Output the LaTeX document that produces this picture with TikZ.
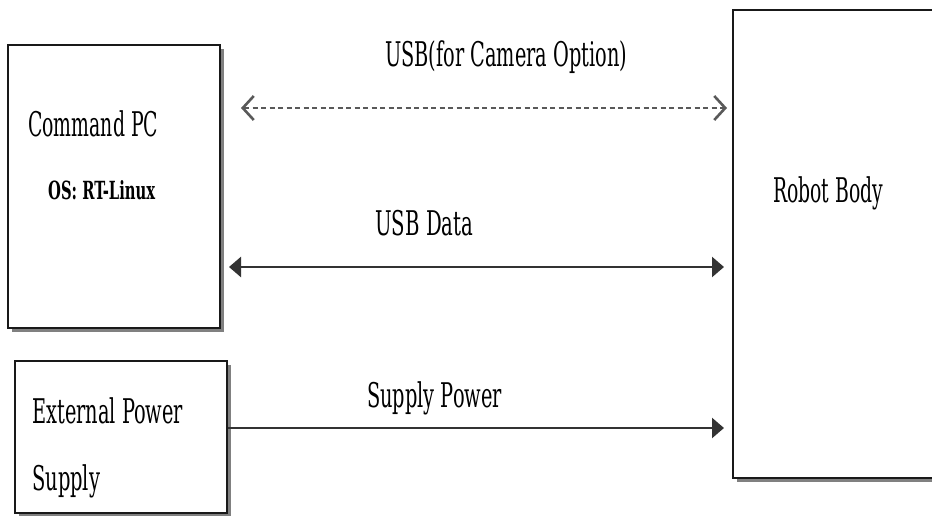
\documentclass[tikz,border=0pt]{standalone}
\usepackage{fontspec}
\setmainfont{DejaVu Serif}
\usetikzlibrary{arrows.meta,shadows}

% condensed label: text squeezed to a given width, natural height kept
\newcommand\fitlab[2]{\resizebox{#1}{\height}{#2}}

\tikzset{
  unitbox/.style={draw=black!90, line width=2pt, fill=white, rectangle,
    inner sep=0pt,
    drop shadow={shadow xshift=4pt, shadow yshift=-4pt, opacity=1, fill=black!50}},
  lbl/.style={anchor=base west, inner sep=0pt, text=black,
    font=\fontsize{34}{36}\selectfont},
  smalllbl/.style={anchor=base west, inner sep=0pt, text=black,
    font=\fontsize{25}{27}\selectfont\bfseries},
  datalink/.style={line width=2.4pt, draw=black!80,
    {Triangle[length=12pt,width=20pt]}-{Triangle[length=12pt,width=20pt]}},
  powerlink/.style={line width=2.4pt, draw=black!80,
    -{Triangle[length=12pt,width=20pt]}},
  optlink/.style={line width=2pt, draw=black!65, dash pattern=on 5pt off 3.5pt,
    {Straight Barb[length=11pt,width=24pt,line width=2.6pt]}-{Straight Barb[length=11pt,width=24pt,line width=2.6pt]}}
}

\begin{document}
\begin{tikzpicture}[x=1pt,y=-1pt]
  \useasboundingbox (0,0) rectangle (932,516);
  \clip (0,0) rectangle (932,516);
  \fill[white] (0,0) rectangle (932,516);

  % blocks
  \node[unitbox, minimum width=212pt, minimum height=283pt] (pc) at (114,186.5) {};
  \node[unitbox, minimum width=212pt, minimum height=152pt] (ext) at (121,437) {};
  \node[unitbox, minimum width=240pt, minimum height=468pt] (robot) at (853,244) {};

  % block texts
  \node[lbl] (pcname) at (28,137) {\fitlab{130pt}{Command PC}};
  \node[smalllbl] (pcos) at (48,200) {\fitlab{107pt}{OS: RT-Linux}};
  \node[lbl] (extname) at (32,423) {\fitlab{151pt}{External Power}};
  \node[lbl] (extname2) at (32,490) {\fitlab{68pt}{Supply}};
  \node[lbl] (robotname) at (773,203) {\fitlab{110pt}{Robot Body}};

  % links
  \coordinate (camy) at (0,108);
  \coordinate (datay) at (0,267);
  \coordinate (powy) at (0,428);
  \draw[optlink] ([xshift=20pt]pc.east |- camy) -- ([xshift=-5pt]robot.west |- camy);
  \draw[datalink] ([xshift=8pt]pc.east |- datay) -- ([xshift=-8pt]robot.west |- datay);
  \draw[powerlink] (ext.east |- powy) -- ([xshift=-8pt]robot.west |- powy);

  % link labels
  \node[lbl] (camlbl) at (385,67) {\fitlab{242pt}{USB(for Camera Option)}};
  \node[lbl] (datalbl) at (375,235) {\fitlab{98pt}{USB Data}};
  \node[lbl] (powlbl) at (367,407) {\fitlab{135pt}{Supply Power}};
\end{tikzpicture}
\end{document}
